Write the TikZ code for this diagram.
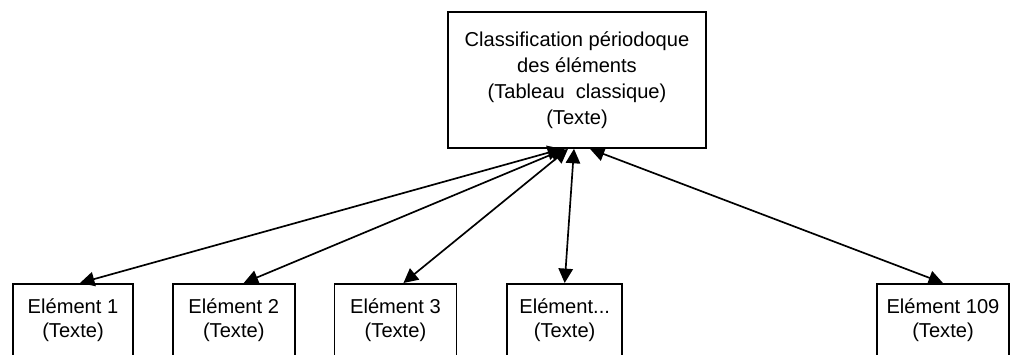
\documentclass[tikz,border=0pt]{standalone}
\usepackage{fontspec}
\setmainfont{Liberation Sans}
\usetikzlibrary{arrows.meta,positioning,calc}
\tikzset{
	x=0.025cm, y=-0.025cm,% one unit is one pixel of the scan
	table box/.style={rectangle, draw, line width=1.2pt, align=center, minimum width=6.45cm, minimum height=3.4cm, font=\fontsize{14.3}{18.4}\selectfont},
	elem box/.style={rectangle, draw, line width=1.2pt, align=center, anchor=north, inner ysep=0.38cm, text depth=1.3cm, font=\fontsize{14.3}{16.6}\selectfont},
	link/.style={{Triangle[length=0.36cm,width=0.36cm]}-{Triangle[length=0.36cm,width=0.36cm]}, line width=1.2pt}
}
\begin{document}
\begin{tikzpicture}
	\useasboundingbox (0,0) rectangle (1028,355);
	\node[table box] (tab) at (577,80) {Classification périodoque\\des éléments\\(Tableau\ \ classique)\\(Texte)};
	\node[elem box, minimum width=3cm] (e1) at (73,283) {Elément 1\\(Texte)};
	\node[elem box, minimum width=3.05cm, right=0.95cm of e1] (e2) {Elément 2\\(Texte)};
	\node[elem box, minimum width=3.05cm, right=0.95cm of e2] (e3) {Elément 3\\(Texte)};
	\node[elem box, minimum width=2.875cm, right=1.225cm of e3] (e4) {Elément...\\(Texte)};
	\node[elem box, minimum width=3.3cm, right=6.325cm of e4] (e5) {Elément 109\\(Texte)};
	\draw[link] ($(tab.south)+(-15,0)$) -- ($(e1.north)+(7,0)$);
	\draw[link] ($(tab.south)+(-12,0)$) -- ($(e2.north)+(10,0)$);
	\draw[link] ($(tab.south)+(-9,0)$) -- ($(e3.north)+(8,0)$);
	\draw[link] ($(tab.south)+(-3,0)$) -- (e4.north);
	\draw[link] ($(tab.south)+(13,0)$) -- (e5.north);
\end{tikzpicture}
\end{document}
